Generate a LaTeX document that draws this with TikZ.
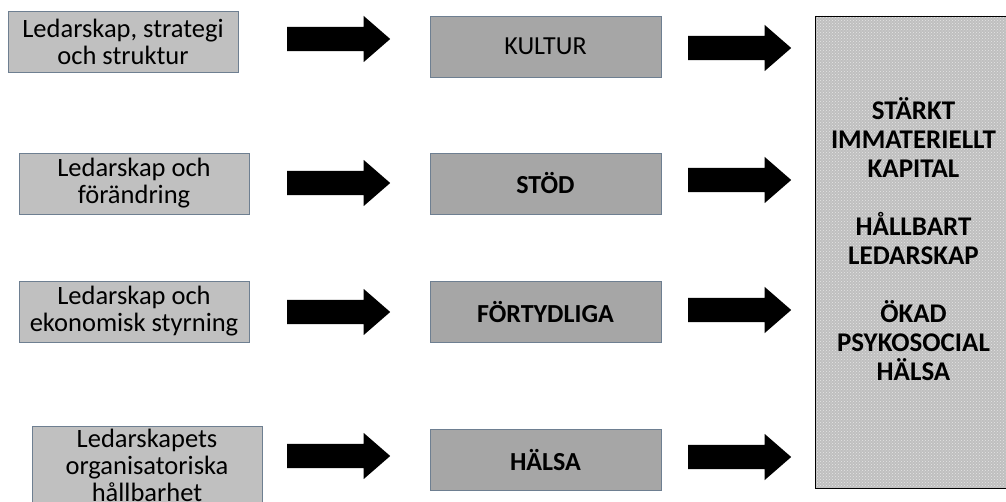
\documentclass[tikz,border=0pt]{standalone}
\usepackage{fontspec}
\setmainfont{Carlito}
\usetikzlibrary{shapes.arrows,patterns,positioning}
\definecolor{leftgray}{HTML}{C0C0C0}
\definecolor{midgray}{HTML}{A6A6A6}
\definecolor{boxline}{HTML}{6E7F91}

\tikzset{
  leftbox/.style={draw=boxline, fill=leftgray, minimum width=230pt, minimum height=61pt,
    align=center, inner sep=0pt, font=\fontsize{26.5}{27}\selectfont},
  midbox/.style={draw=boxline, fill=midgray, minimum width=231pt, minimum height=61pt,
    align=center, inner sep=0pt, font=\fontsize{26}{28}\selectfont},
  blockarrow/.style={single arrow, fill=black, draw=none, inner sep=0pt, anchor=tail,
    minimum height=103pt, single arrow head extend=11pt,
    single arrow tip angle=82},
  resultbox/.style={draw=black, preaction={fill=gray!50}, pattern=crosshatch dots,
    pattern color=white!80!gray, minimum width=197pt, minimum height=472pt, inner sep=0pt}
}
\newcommand{\shaft}{\rule{0pt}{24pt}}

\begin{document}
\begin{tikzpicture}[x=1pt,y=-1pt]
\useasboundingbox (0,0) rectangle (1006,502);

% vänster kolumn
\node[leftbox] (l1) at (123,42) {Ledarskap, strategi\\och struktur};
\node[leftbox] (l2) at (134,183.5) {Ledarskap och\\förändring};
\node[leftbox] (l3) at (134,311.5) {Ledarskap och\\ekonomisk styrning};
\node[leftbox, minimum height=88pt,
  label={[align=center, font=\fontsize{26.5}{27}\selectfont, yshift=5pt]center:Ledarskapets\\organisatoriska\\hållbarhet}]
  (l4) at (147,470) {};

% pilar 1
\node[blockarrow] (p11) at (287,39) {\shaft};
\node[blockarrow] (p12) at (287,183) {\shaft};
\node[blockarrow] (p13) at (287,312) {\shaft};
\node[blockarrow] (p14) at (287,456) {\shaft};

% mittkolumn
\node[midbox] (m1) at (545.5,46.5) {KULTUR};
\node[midbox] (m2) at (545.5,183.5) {\bfseries STÖD};
\node[midbox] (m3) at (545.5,312) {\bfseries FÖRTYDLIGA};
\node[midbox] (m4) at (545.5,460) {\bfseries HÄLSA};

% pilar 2
\node[blockarrow] (p21) at (688,48) {\shaft};
\node[blockarrow] (p22) at (688,180) {\shaft};
\node[blockarrow] (p23) at (688,310) {\shaft};
\node[blockarrow] (p24) at (688,457) {\shaft};

% resultat
\node[resultbox,
  label={[align=center, font=\bfseries\fontsize{27}{29}\selectfont, yshift=13pt]center:STÄRKT\\IMMATERIELLT\\KAPITAL\\[29pt]HÅLLBART\\LEDARSKAP\\[29pt]ÖKAD\\PSYKOSOCIAL\\HÄLSA}]
  (res) at (913.5,252) {};
\end{tikzpicture}
\end{document}
